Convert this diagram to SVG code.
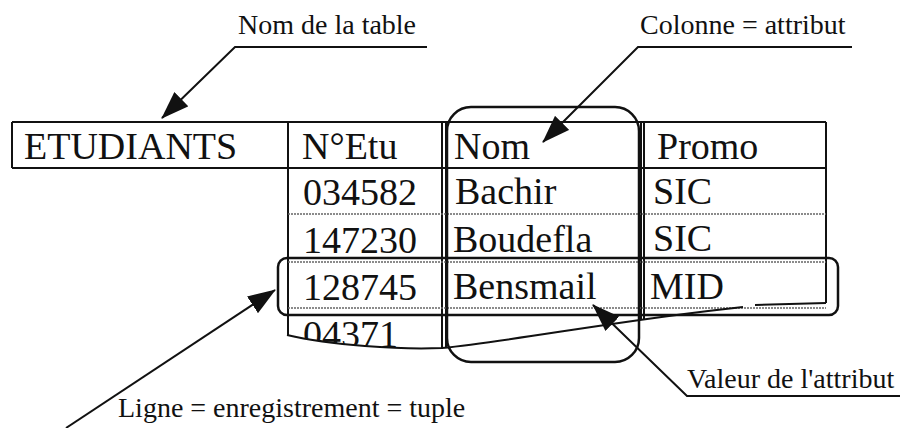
<svg xmlns="http://www.w3.org/2000/svg" width="902" height="428" viewBox="0 0 902 428">
<style>
.t{font-family:"Liberation Serif","Times New Roman",serif;font-size:38px;fill:#111}
.l{font-family:"Liberation Serif","Times New Roman",serif;font-size:28px;fill:#111}
.g{stroke:#111;stroke-width:2;fill:none}
.d{stroke:#666;stroke-width:1.6;stroke-dasharray:2 1;fill:none}
.h{stroke:#111;stroke-width:2.5;fill:none}
.c{stroke:#111;stroke-width:2;fill:none}
</style>
<defs>
<marker id="ah" viewBox="0 0 28 20" refX="27" refY="10" markerWidth="28" markerHeight="20" markerUnits="userSpaceOnUse" orient="auto">
<path d="M0,0 L28,10 L0,20 z" fill="#111"/>
</marker>
<clipPath id="cut"><path d="M280,300 L287,335 C330,345 400,350 442,348 L442,300 Z"/></clipPath>
</defs>
<rect width="902" height="428" fill="#fff"/>

<g id="table">
<line class="g" x1="12" y1="122" x2="826" y2="122"/>
<line class="g" x1="12" y1="168" x2="826" y2="168"/>
<line class="g" x1="12" y1="122" x2="12" y2="168"/>
<line class="g" x1="288" y1="122" x2="288" y2="335"/>
<line class="g" x1="442" y1="122" x2="442" y2="348"/>
<line class="g" x1="446" y1="122" x2="446" y2="348"/>
<line class="g" x1="641" y1="122" x2="641" y2="320"/>
<line class="g" x1="644" y1="122" x2="644" y2="320"/>
<line class="g" x1="826" y1="122" x2="826" y2="303"/>
<line class="d" x1="288" y1="214" x2="826" y2="214"/>
<line class="d" x1="288" y1="262" x2="826" y2="262"/>
<line class="d" x1="288" y1="308" x2="826" y2="308"/>
<path class="g" d="M287,335 C330,345 400,350 442,348 C520,340 620,320 743,307"/>
<path class="g" d="M755,305 L826,303"/>
<text class="t" x="24" y="159">ETUDIANTS</text>
<text class="t" x="302" y="159">N°Etu</text>
<text class="t" x="454" y="159">Nom</text>
<text class="t" x="657" y="159">Promo</text>
<text class="t" x="303" y="205">034582</text>
<text class="t" x="455" y="204">Bachir</text>
<text class="t" x="653" y="204">SIC</text>
<text class="t" x="303" y="253">147230</text>
<text class="t" x="453" y="252">Boudefla</text>
<text class="t" x="653" y="251">SIC</text>
<text class="t" x="303" y="300">128745</text>
<text class="t" x="453" y="299">Bensmail</text>
<text class="t" x="650" y="299">MID</text>
<text class="t" x="303" y="347" clip-path="url(#cut)">04371</text>
</g>

<g id="column-highlight">
<rect class="h" x="447" y="107" width="192" height="255" rx="24" ry="24"/>
</g>

<g id="row-highlight">
<rect class="h" x="278" y="258" width="560" height="57" rx="9" ry="9"/>
</g>

<g id="label-table">
<text class="l" x="238" y="34">Nom de la table</text>
</g>
<g id="label-column">
<text class="l" x="640" y="34">Colonne = attribut</text>
</g>
<g id="label-value">
<text class="l" x="687" y="388">Valeur de l'attribut</text>
</g>
<g id="label-row">
<text class="l" x="118" y="417">Ligne = enregistrement = tuple</text>
</g>

<g id="connectors">
<path class="c" d="M427,47 L235,47 L162,118" marker-end="url(#ah)"/>
<path class="c" d="M852,47 L638,47 L543,142" marker-end="url(#ah)"/>
<path class="c" d="M900,396 L687,396 L593,305" marker-end="url(#ah)"/>
<path class="c" d="M66,428 L275,290" marker-end="url(#ah)"/>
</g>
</svg>
